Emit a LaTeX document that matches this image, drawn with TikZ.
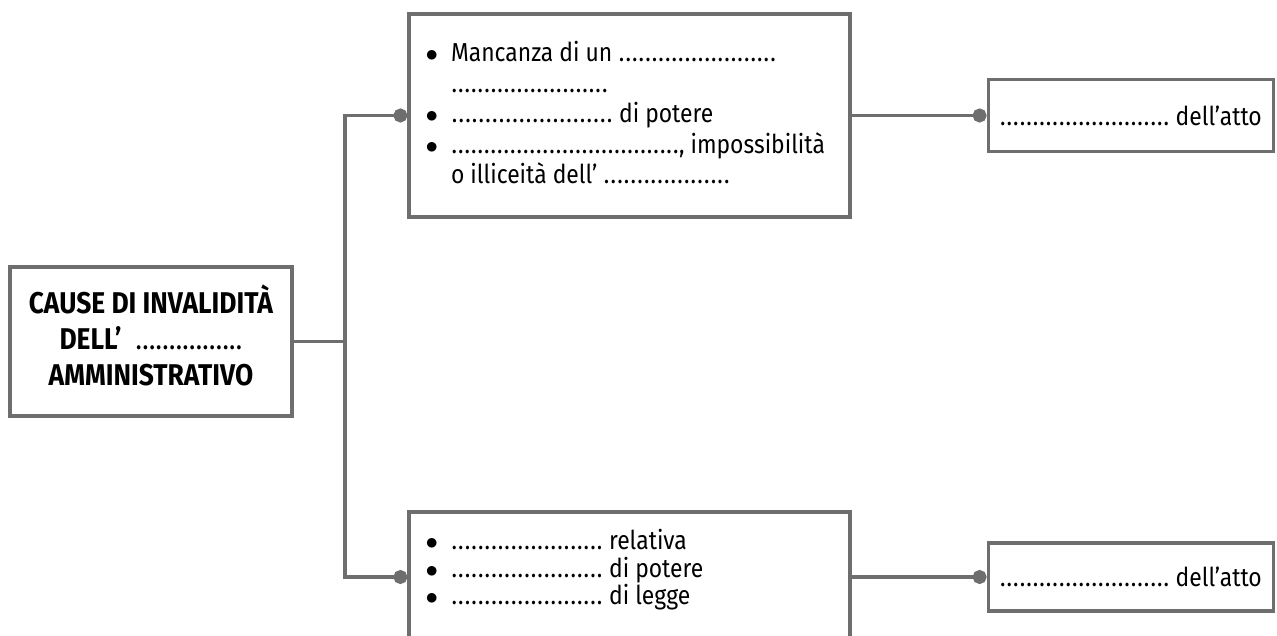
\documentclass[tikz,border=0pt]{standalone}
\usepackage{fontspec}
\setmainfont{Fira Sans}[FakeStretch=0.88]
\usetikzlibrary{positioning,arrows.meta}
\definecolor{grigio}{HTML}{6E6E6E}
\newcommand{\puntini}[1]{\makebox[#1]{\xleaders\hbox to 6.5pt{\hss.\hss}\hfill}}

\begin{document}
\begin{tikzpicture}[x=1pt,y=-1pt,
    every node/.style={font=\fontsize{26}{30.5}\selectfont},
    riquadro/.style={draw=grigio,line width=3.2pt,rectangle,inner sep=0pt},
    elenco/.style={inner sep=0pt,align=left},
    filo/.style={draw=grigio,line width=3.2pt},
    pallino/.style={-{Circle[length=14pt,width=14pt]}}]
    \useasboundingbox (0,0) rectangle (1277,635);
    \clip (0,0) rectangle (1277,635);
    \node[riquadro,minimum width=282pt,minimum height=149pt,align=center,text depth=12pt,
      font=\fontsize{30}{33}\selectfont] (cause) at (151,341.5)
      {\textbf{CAUSE DI INVALIDITÀ}\\[3pt]\textbf{DELL’}\hspace{14pt}\puntini{107pt}\\[3pt]\textbf{AMMINISTRATIVO}};
    \node[riquadro,minimum width=441pt,minimum height=203pt] (nullita) at (629.5,115.5) {};
    \node[elenco,below right=28pt and 18pt of nullita.north west] (vizi1)
      {\begin{tabular}{@{}l@{\hspace{13pt}}l@{}}
        $\bullet$ & Mancanza di un \puntini{158pt}\\
          & \puntini{157pt}\\
        $\bullet$ & \puntini{162pt} di potere\\
        $\bullet$ & \puntini{228pt}, impossibilità\\
          & o illiceità dell’ \puntini{127pt}
      \end{tabular}};
    \node[riquadro,minimum width=441pt,minimum height=130pt] (annull) at (629.5,577) {};
    \node[elenco,below right=19pt and 18pt of annull.north west,
      font=\fontsize{26}{23}\selectfont] (vizi2)
      {\begin{tabular}{@{}l@{\hspace{13pt}}l@{}}
        $\bullet$ & \puntini{152pt} relativa\\
        $\bullet$ & \puntini{152pt} di potere\\
        $\bullet$ & \puntini{152pt} di legge
      \end{tabular}};
    \node[riquadro,minimum width=285pt,minimum height=72pt,inner xsep=9pt,right=135pt of nullita] (esito1)
      {\puntini{170pt} dell’atto};
    \node[riquadro,minimum width=285pt,minimum height=68pt,inner xsep=9pt,right=135pt of annull] (esito2)
      {\puntini{170pt} dell’atto};
    \coordinate (snodo) at (345,341.5);
    \draw[filo] (cause.east) -- (snodo);
    \draw[filo,pallino] (snodo) |- (nullita.west);
    \draw[filo,pallino] (snodo) |- (annull.west);
    \draw[filo,pallino] (nullita.east) -- (esito1.west);
    \draw[filo,pallino] (annull.east) -- (esito2.west);
\end{tikzpicture}
\end{document}
